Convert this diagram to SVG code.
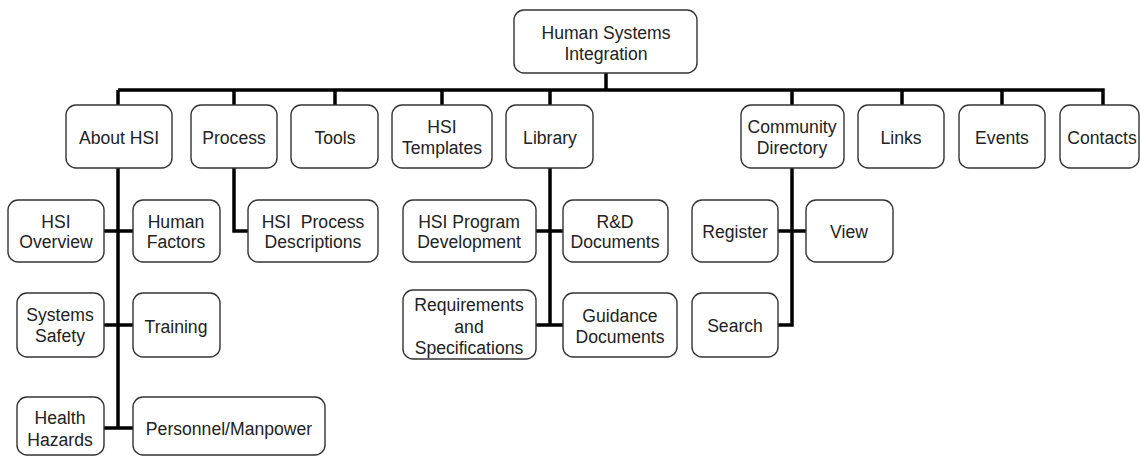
<svg xmlns="http://www.w3.org/2000/svg" width="1140" height="457" viewBox="0 0 1140 457">
<style>
.box{fill:#fff;stroke:#333;stroke-width:1.4}
.t{font-family:"Liberation Sans",Arial,sans-serif;font-size:17.6px;fill:#222;text-anchor:middle}
.c{fill:none;stroke:#000;stroke-width:3.5;stroke-linejoin:miter}
</style>
<rect width="1140" height="457" fill="#fff"/>
<g id="connectors">
<path class="c" d="M606 73V90M118 90H1103M118 90V105M234 90V105M335 90V105M442 90V105M550 90V105M792 90V105M902 90V105M1002 90V105M1103 88.25V105"/>
<path class="c" d="M118 168V428M104 231H133M104 325H133M104 428H133"/>
<path class="c" d="M234 168V231H248"/>
<path class="c" d="M550 168V325M536 231H563M536 325H563"/>
<path class="c" d="M792 168V325H778M778 231H806"/>
</g>
<g id="root"><rect class="box" x="514" y="10" width="183" height="63" rx="10"/><text class="t" x="606" y="39">Human Systems</text><text class="t" x="606" y="60">Integration</text></g>
<g id="about"><rect class="box" x="66" y="105" width="106" height="63" rx="10"/><text class="t" x="119" y="144">About HSI</text></g>
<g id="process"><rect class="box" x="191" y="105" width="86" height="63" rx="10"/><text class="t" x="234" y="144">Process</text></g>
<g id="tools"><rect class="box" x="291" y="105" width="87" height="63" rx="10"/><text class="t" x="335" y="144">Tools</text></g>
<g id="templates"><rect class="box" x="392" y="105" width="100" height="63" rx="10"/><text class="t" x="442" y="133">HSI</text><text class="t" x="442" y="154">Templates</text></g>
<g id="library"><rect class="box" x="506" y="105" width="87" height="63" rx="10"/><text class="t" x="550" y="144">Library</text></g>
<g id="community"><rect class="box" x="741" y="105" width="103" height="63" rx="10"/><text class="t" x="792" y="133">Community</text><text class="t" x="792" y="154">Directory</text></g>
<g id="links"><rect class="box" x="858" y="105" width="86" height="63" rx="10"/><text class="t" x="901" y="144">Links</text></g>
<g id="events"><rect class="box" x="959" y="105" width="86" height="63" rx="10"/><text class="t" x="1002" y="144">Events</text></g>
<g id="contacts"><rect class="box" x="1060" y="105" width="79" height="63" rx="10"/><text class="t" x="1102" y="144">Contacts</text></g>
<g id="overview"><rect class="box" x="8" y="200" width="96" height="62" rx="10"/><text class="t" x="56" y="228">HSI</text><text class="t" x="56" y="248">Overview</text></g>
<g id="humanfactors"><rect class="box" x="133" y="200" width="87" height="62" rx="10"/><text class="t" x="176" y="228">Human</text><text class="t" x="176" y="248">Factors</text></g>
<g id="processdesc"><rect class="box" x="248" y="200" width="130" height="62" rx="10"/><text class="t" x="313" y="228" style="white-space:pre">HSI  Process</text><text class="t" x="313" y="248">Descriptions</text></g>
<g id="safety"><rect class="box" x="17" y="293" width="87" height="64" rx="10"/><text class="t" x="60" y="321">Systems</text><text class="t" x="60" y="342">Safety</text></g>
<g id="training"><rect class="box" x="133" y="293" width="87" height="64" rx="10"/><text class="t" x="176" y="333">Training</text></g>
<g id="health"><rect class="box" x="17" y="397" width="87" height="58" rx="10"/><text class="t" x="60" y="424">Health</text><text class="t" x="60" y="446">Hazards</text></g>
<g id="personnel"><rect class="box" x="133" y="397" width="192" height="58" rx="10"/><text class="t" x="229" y="435">Personnel/Manpower</text></g>
<g id="progdev"><rect class="box" x="403" y="200" width="133" height="62" rx="10"/><text class="t" x="469" y="228">HSI Program</text><text class="t" x="469" y="248">Development</text></g>
<g id="rnd"><rect class="box" x="563" y="200" width="105" height="62" rx="10"/><text class="t" x="615" y="228">R&amp;D</text><text class="t" x="615" y="248">Documents</text></g>
<g id="requirements"><rect class="box" x="403" y="290" width="133" height="69" rx="10"/><text class="t" x="469" y="311">Requirements</text><text class="t" x="469" y="333">and</text><text class="t" x="469" y="354">Specifications</text></g>
<g id="guidance"><rect class="box" x="563" y="293" width="114" height="64" rx="10"/><text class="t" x="620" y="322">Guidance</text><text class="t" x="620" y="343">Documents</text></g>
<g id="register"><rect class="box" x="692" y="200" width="86" height="62" rx="10"/><text class="t" x="735" y="238">Register</text></g>
<g id="view"><rect class="box" x="806" y="200" width="87" height="62" rx="10"/><text class="t" x="849" y="238">View</text></g>
<g id="search"><rect class="box" x="692" y="293" width="86" height="64" rx="10"/><text class="t" x="735" y="332">Search</text></g>
</svg>
